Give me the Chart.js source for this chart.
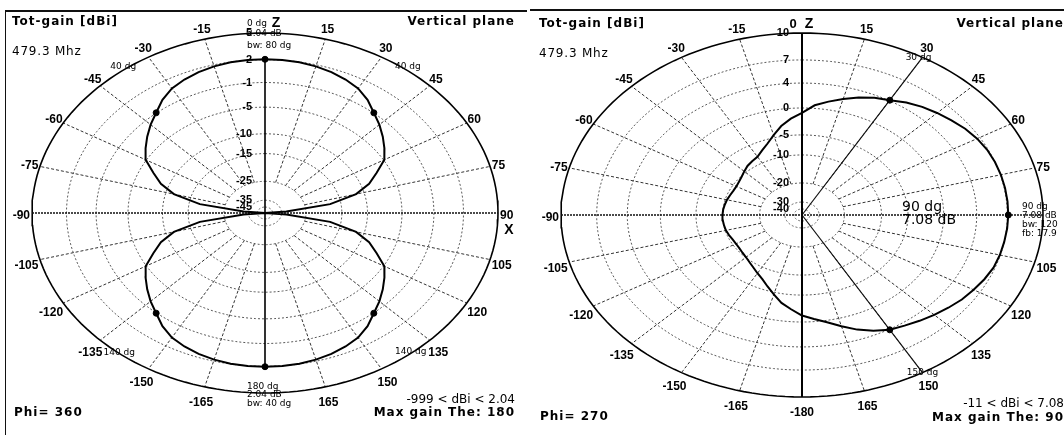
<!DOCTYPE html>
<html>
<head>
<meta charset="utf-8">
<title>Tot-gain vertical plane</title>
<script src="https://cdn.jsdelivr.net/npm/chart.js@4.4.1/dist/chart.umd.min.js"></script>
<style>
  html, body { margin: 0; padding: 0; background: #fff; }
  body { width: 1064px; height: 435px; position: relative; overflow: hidden; }
  canvas { position: absolute; top: 0; }
  #leftChart { left: 0; }
  #rightChart { left: 530px; }
  .rule { position: absolute; background: #111; }
</style>
</head>
<body>
<canvas id="leftChart" width="530" height="435"></canvas>
<canvas id="rightChart" width="534" height="435"></canvas>
<div class="rule" style="left:5px; top:10px; width:522px; height:2px;"></div>
<div class="rule" style="left:5px; top:10px; width:1px; height:425px;"></div>
<div class="rule" style="left:530px; top:9px; width:534px; height:2px;"></div>
<script>
// Pattern angles (deg from Z axis, clockwise) where gain was read
const patternAngles = [-180, -175, -170, -165, -160, -155, -150, -145, -140, -135, -130, -125,
  -120, -115, -110, -105, -100, -95, -90, -85, -80, -75, -70, -65, -60, -55, -50, -45, -40,
  -35, -30, -25, -20, -15, -10, -5, 0, 5, 10, 15, 20, 25, 30, 35, 40, 45, 50, 55, 60, 65, 70,
  75, 80, 85, 90, 95, 100, 105, 110, 115, 120, 125, 130, 135, 140, 145, 150, 155, 160, 165,
  170, 175, 180];

// Phi = 360 plane, gain in dBi (-999 = null)
const leftGain = [2.04, 2.02, 1.95, 1.8, 1.55, 1.2, 0.75, 0.0, -0.96, -1.9, -2.9, -3.9,
  -4.9, -7.0, -8.8, -11.6, -18, -33, -999, -33, -18, -11.6, -8.8, -7.0, -4.9, -3.9, -2.9, -1.9, -0.96,
  0.0, 0.75, 1.2, 1.55, 1.8, 1.95, 2.02, 2.04, 2.02, 1.95, 1.8, 1.55, 1.2, 0.75, 0.0, -0.96, -1.9, -2.9, -3.9, -4.9, -7.0, -8.8,
  -11.6, -18, -33, -999, -33, -18, -11.6, -8.8, -7.0, -4.9, -3.9, -2.9, -1.9, -0.96, 0.0, 0.75, 1.2, 1.55, 1.8,
  1.95, 2.02, 2.04];

// Phi = 270 plane, gain in dBi
const rightGain = [-1.2, -2.3, -3.3, -4.6, -6.0, -7.3, -8.2, -9.0, -9.6, -10.1, -10.5, -10.8,
  -10.9, -10.8, -10.5, -10.2, -10.1, -10.0, -10.0, -10.1, -10.3, -10.5, -10.8, -11.0, -11.0, -10.7, -10.2, -9.6, -9.0,
  -8.6, -8.2, -7.2, -6.0, -4.5, -3.1, -1.9, -0.9, 0.5, 1.3, 2.1, 2.9, 3.6, 4.08, 4.7, 5.2, 5.6, 6.0, 6.4, 6.7, 6.9, 7.0,
  7.05, 7.07, 7.08, 7.08, 7.05, 7.0, 6.95, 6.85, 6.6, 6.3, 6.0, 5.6, 5.2, 4.8, 4.4, 4.08, 3.3, 2.4, 1.3,
  0.3, -0.5, -1.2];

// Angle tick labels around the plot
const angleTicks = [-180, -165, -150, -135, -120, -105, -90, -75, -60, -45, -30, -15,
  0, 15, 30, 45, 60, 75, 90, 105, 120, 135, 150, 165];

// Gain rings (first one = outer ring)
const leftRingTicks = [5, 2, -1, -5, -10, -15, -25, -35, -45];
const rightRingTicks = [10, 7, 4, 0, -5, -10, -20, -30, -40];

// Marker angles
const leftMarkers = [0, 40, -40, 140, -140, 180];
const rightMarkers = [30, 90, 150];

// 4nec2 style log scale: dB below outer ring -> relative radius
const scaleDb = [0, -3, -6, -10, -15, -20, -30, -40, -50, -60];
const scaleR = [1, 0.852, 0.725, 0.588, 0.44, 0.33, 0.176, 0.071, 0.033, 0];

function radiusOf(rel) {
    if (rel >= 0) return 1;
    if (rel <= scaleDb[scaleDb.length - 1]) return 0;
    for (let i = 1; i < scaleDb.length; i++) {
        if (rel >= scaleDb[i]) {
            const t = (rel - scaleDb[i - 1]) / (scaleDb[i] - scaleDb[i - 1]);
            return scaleR[i - 1] + t * (scaleR[i] - scaleR[i - 1]);
        }
    }
    return 0;
}

function polarPoint(deg, r) {
    const a = deg * Math.PI / 180;
    return { x: r * Math.sin(a), y: r * Math.cos(a) };
}

function gainAt(gains, deg) {
    return gains[patternAngles.indexOf(deg)];
}

const SMALL = '9px "DejaVu Sans"';
const HEAD_B = 'bold 12px "DejaVu Sans"';
const HEAD = '12px "DejaVu Sans"';
const BIG = 'bold 14px "Liberation Sans", Arial';

// Draws tick labels, ring labels, marker notes and panel texts
const polarText = {
    id: 'polarText',
    afterDraw(chart) {
        const o = chart.options.plugins.polarText;
        const ctx = chart.ctx;
        const xs = chart.scales.x, ys = chart.scales.y;
        const cx = xs.getPixelForValue(0), cy = ys.getPixelForValue(0);
        const rx = xs.getPixelForValue(1) - cx, ry = cy - ys.getPixelForValue(1);
        const outer = o.ringTicks[0];
        ctx.save();
        ctx.fillStyle = '#000';
        ctx.textBaseline = 'middle';

        // angle labels
        ctx.font = 'bold 12px "Liberation Sans", Arial, sans-serif';
        ctx.textAlign = 'center';
        angleTicks.forEach(a => {
            if (o.skipAngles.includes(a)) return;
            const txt = String(a);
            const w = ctx.measureText(txt).width;
            const s = Math.sin(a * Math.PI / 180), c = Math.cos(a * Math.PI / 180);
            ctx.fillText(txt, cx + s * (rx + w / 2 + 2), cy - c * (ry + 13) + 3);
        });

        // ring labels
        ctx.font = 'bold 11px "Liberation Sans", Arial, sans-serif';
        ctx.textAlign = 'right';
        o.ringTicks.forEach(t => {
            const r = radiusOf(t - outer);
            ctx.fillText(String(t), cx - 13, cy - r * ry);
        });

        // notes anchored on the outer ring (or the centre)
        o.notes.forEach(n => {
            let ax = cx, ay = cy;
            if (n.a !== undefined) {
                const p = polarPoint(n.a, 1);
                ax = cx + p.x * rx;
                ay = cy - p.y * ry;
            }
            ctx.font = n.font || SMALL;
            ctx.textAlign = n.align || 'left';
            ctx.fillText(n.text, ax + n.dx, ay + n.dy);
        });

        // panel texts (canvas coords)
        o.panel.forEach(p => {
            ctx.font = p.font;
            ctx.letterSpacing = (p.ls || 0) + 'px';
            ctx.textAlign = p.align || 'left';
            ctx.fillText(p.text, p.x, p.y);
        });
        ctx.letterSpacing = '0px';
        ctx.restore();
    }
};

function buildPolar(canvasId, cfg) {
    const outer = cfg.ringTicks[0];
    const gainR = g => radiusOf(g - outer);
    const datasets = [];
    const line = (data, color, width, dash, order) => ({
        data, showLine: true, pointRadius: 0, borderColor: color, borderWidth: width,
        borderDash: dash, fill: false, clip: false, order
    });

    // rings
    cfg.ringTicks.forEach((t, i) => {
        const r = gainR(t);
        const pts = [];
        for (let a = 0; a <= 360; a += 2) pts.push(polarPoint(a, r));
        if (i === 0) datasets.push(line(pts, '#000', 1.6, [], 6));
        else datasets.push(line(pts, '#5a5a5a', 1, [2, 2], 7));
    });

    // spokes every 15 deg
    angleTicks.forEach(a => {
        if (a % 90 === 0) return;
        datasets.push(line([polarPoint(a, gainR(outer - 30)), polarPoint(a, 1)], '#333', 1, [3, 2], 6));
    });

    // horizontal axis
    datasets.push(line([polarPoint(-90, 1.0), polarPoint(90, 1.0)], '#111', 1.6, [2, 1], 5));

    // vertical axis
    if (cfg.fullVertical) {
        datasets.push(line([polarPoint(0, 1), polarPoint(180, 1)], '#000', 2, [], 4));
    } else {
        datasets.push(line([polarPoint(0, gainR(gainAt(cfg.gain, 0))),
            polarPoint(180, gainR(gainAt(cfg.gain, 180)))], '#000', 1.6, [], 4));
    }

    // beam width marker lines
    cfg.markerLines.forEach(a => {
        datasets.push(line([polarPoint(a, 0), polarPoint(a, 1)], '#111', 1.2, [], 4));
    });

    // radiation pattern
    const patt = patternAngles.map((a, i) => polarPoint(a, gainR(cfg.gain[i])));
    datasets.push(line(patt, '#000', 2, [], 1));

    // marker dots
    datasets.push({
        data: cfg.markers.map(a => polarPoint(a, gainR(gainAt(cfg.gain, a)))),
        showLine: false, pointRadius: 3, pointBackgroundColor: '#000', pointBorderColor: '#000',
        clip: false, order: 0
    });

    return new Chart(document.getElementById(canvasId), {
        type: 'scatter',
        data: { datasets },
        options: {
            responsive: false,
            animation: false,
            events: [],
            layout: { padding: cfg.pad },
            elements: { line: { tension: 0 } },
            plugins: {
                legend: { display: false },
                tooltip: { enabled: false },
                polarText: {
                    ringTicks: cfg.ringTicks,
                    skipAngles: cfg.skipAngles,
                    notes: cfg.notes,
                    panel: cfg.panel
                }
            },
            scales: {
                x: { type: 'linear', min: -1, max: 1, display: false },
                y: { type: 'linear', min: -1, max: 1, display: false }
            }
        },
        plugins: [polarText]
    });
}

buildPolar('leftChart', {
    gain: leftGain,
    ringTicks: leftRingTicks,
    markers: leftMarkers,
    markerLines: [],
    fullVertical: false,
    skipAngles: [0, -180],
    pad: { left: 32, right: 32, top: 33, bottom: 42 },
    notes: [
        { a: 0, dx: -18, dy: -9, text: '0 dg' },
        { a: 0, dx: -18, dy: 1, text: '2.04 dB' },
        { a: 0, dx: -18, dy: 13, text: 'bw: 80 dg' },
        { a: 0, dx: 11, dy: -10, text: 'Z', font: BIG, align: 'center' },
        { a: 180, dx: -18, dy: -6.5, text: '180 dg' },
        { a: 180, dx: -18, dy: 2, text: '2.04 dB' },
        { a: 180, dx: -18, dy: 10.5, text: 'bw: 40 dg' },
        { a: -40, dx: 8, dy: -8, text: '40 dg', align: 'center' },
        { a: 40, dx: -7, dy: -8, text: '40 dg', align: 'center' },
        { a: -140, dx: 4, dy: 2, text: '140 dg', align: 'center' },
        { a: 140, dx: -4, dy: 1, text: '140 dg', align: 'center' },
        { a: 90, dx: 11, dy: 17, text: 'X', font: BIG, align: 'center' }
    ],
    panel: [
        { text: 'Tot-gain [dBi]', x: 12, y: 22, font: HEAD_B, ls: 1 },
        { text: 'Vertical plane', x: 515, y: 22, font: HEAD_B, align: 'right', ls: 1 },
        { text: '479.3 Mhz', x: 12, y: 52, font: HEAD, ls: 0.8 },
        { text: 'Phi= 360', x: 14, y: 413, font: HEAD_B, ls: 1 },
        { text: '-999 < dBi < 2.04', x: 515, y: 400, font: HEAD, align: 'right' },
        { text: 'Max gain The: 180', x: 515, y: 413, font: HEAD_B, align: 'right', ls: 1 }
    ]
});

buildPolar('rightChart', {
    gain: rightGain,
    ringTicks: rightRingTicks,
    markers: rightMarkers,
    markerLines: [30, 150],
    fullVertical: true,
    skipAngles: [0, 90],
    pad: { left: 31, right: 21, top: 33, bottom: 38 },
    notes: [
        { a: 0, dx: -9, dy: -9, text: '0', font: 'bold 13px "Liberation Sans", Arial', align: 'center' },
        { a: 0, dx: 7, dy: -9, text: 'Z', font: BIG, align: 'center' },
        { a: 30, dx: -4, dy: 0, text: '30 dg', align: 'center' },
        { a: 150, dx: 0, dy: 0, text: '150 dg', align: 'center' },
        { a: 90, dx: -21, dy: -8, text: '90 dg' },
        { a: 90, dx: -21, dy: 1, text: '7.08 dB' },
        { a: 90, dx: -21, dy: 10, text: 'bw: 120' },
        { a: 90, dx: -21, dy: 19, text: 'fb: 17.9' },
        { dx: 100, dy: -7.5, text: '90 dg', font: '14px "DejaVu Sans"' },
        { dx: 100, dy: 5, text: '7.08 dB', font: '14px "DejaVu Sans"' }
    ],
    panel: [
        { text: 'Tot-gain [dBi]', x: 9, y: 24, font: HEAD_B, ls: 1 },
        { text: 'Vertical plane', x: 534, y: 24, font: HEAD_B, align: 'right', ls: 1 },
        { text: '479.3 Mhz', x: 9, y: 54, font: HEAD, ls: 0.8 },
        { text: 'Phi= 270', x: 10, y: 417, font: HEAD_B, ls: 1 },
        { text: '-11 < dBi < 7.08', x: 534, y: 404, font: HEAD, align: 'right' },
        { text: 'Max gain The: 90', x: 534, y: 418, font: HEAD_B, align: 'right', ls: 1 }
    ]
});
</script>
</body>
</html>
